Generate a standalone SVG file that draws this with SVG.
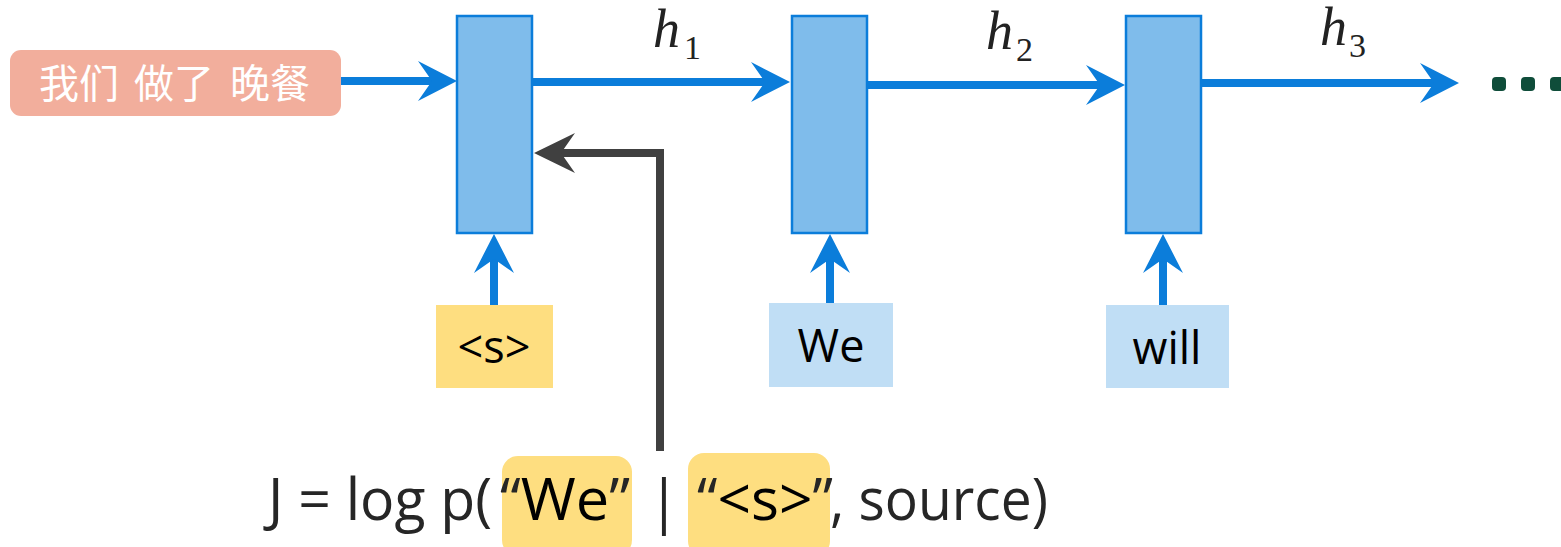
<svg xmlns="http://www.w3.org/2000/svg" width="1561" height="547" viewBox="0 0 1561 547">
<style>
.cell{fill:#7FBCEB;stroke:#0B7DDA;stroke-width:2.5}
.blue{stroke:#0B7DDA;stroke-width:8;fill:none}
.gray{stroke:#404040;stroke-width:8;fill:none;stroke-linejoin:miter}
.tok{font-family:"Open Sans","Noto Sans",sans-serif;font-size:45px;fill:#000;text-anchor:middle}
.h{font-family:"Liberation Serif",serif;font-style:italic;font-size:54px;fill:#222}
.sub{font-family:"Liberation Serif",serif;font-size:34px;fill:#222}
.eq{font-family:"Open Sans","Noto Sans",sans-serif;font-size:58px;fill:#262626}
.cjk{font-family:"Noto Sans CJK SC",sans-serif;font-size:40px;fill:#fff}
</style>
<defs>
<marker id="ab" viewBox="-40 -22 42 44" refX="-25" refY="0" markerWidth="42" markerHeight="44" markerUnits="userSpaceOnUse" orient="auto">
<path d="M0,0 L-39,-20 L-25,0 L-39,20 Z" fill="#0B7DDA"/>
</marker>
<marker id="ag" viewBox="-42 -22 44 44" refX="-27" refY="0" markerWidth="44" markerHeight="44" markerUnits="userSpaceOnUse" orient="auto">
<path d="M0,0 L-41,-20 L-27,0 L-41,20 Z" fill="#404040"/>
</marker>
</defs>

<g id="source">
<rect x="10" y="50" width="331" height="66" rx="11" fill="#F2AE9C"/>
<text class="cjk" y="98"><tspan x="39">我们</tspan><tspan x="134">做了</tspan><tspan x="230">晚餐</tspan></text>
</g>

<g id="cell1"><rect class="cell" x="457" y="16" width="75" height="217"/></g>
<g id="cell2"><rect class="cell" x="792" y="16" width="75" height="217"/></g>
<g id="cell3"><rect class="cell" x="1126" y="16" width="75" height="217"/></g>

<g id="tok-s"><rect x="436" y="305" width="117" height="83" fill="#FEDE80"/><text class="tok" x="494" y="363">&lt;s&gt;</text></g>
<g id="tok-we"><rect x="769" y="303" width="124" height="84" fill="#C0DEF5"/><text class="tok" x="831" y="362">We</text></g>
<g id="tok-will"><rect x="1106" y="305" width="123" height="83" fill="#C0DEF5"/><text class="tok" x="1167" y="364">will</text></g>

<g id="labels">
<text class="h" x="653" y="47">h</text><text class="sub" x="684" y="59">1</text>
<text class="h" x="986" y="49">h</text><text class="sub" x="1016" y="61">2</text>
<text class="h" x="1320" y="45">h</text><text class="sub" x="1349" y="57">3</text>
</g>

<g id="ellipsis" fill="#0F4D3A">
<rect x="1492" y="77" width="14" height="14" rx="4"/>
<rect x="1521" y="77" width="14" height="14" rx="4"/>
<rect x="1550" y="77" width="14" height="14" rx="4"/>
</g>

<g id="connectors">
<line class="blue" x1="341" y1="81" x2="432" y2="81" marker-end="url(#ab)"/>
<line class="blue" x1="532" y1="82" x2="765" y2="82" marker-end="url(#ab)"/>
<line class="blue" x1="867" y1="85" x2="1100" y2="85" marker-end="url(#ab)"/>
<line class="blue" x1="1201" y1="83" x2="1434" y2="83" marker-end="url(#ab)"/>
<line class="blue" x1="494" y1="305" x2="494" y2="259" marker-end="url(#ab)"/>
<line class="blue" x1="830" y1="303" x2="830" y2="259" marker-end="url(#ab)"/>
<line class="blue" x1="1163" y1="305" x2="1163" y2="259" marker-end="url(#ab)"/>
<path class="gray" d="M660,451 V153 H561" marker-end="url(#ag)"/>
</g>

<g id="equation">
<rect x="502" y="456" width="130" height="100" rx="16" fill="#FEDE80"/>
<rect x="688" y="453" width="142" height="104" rx="16" fill="#FEDE80"/>
<text class="eq" x="268" y="520" textLength="224" lengthAdjust="spacingAndGlyphs">J = log p(</text>
<text class="eq" x="500" y="520" textLength="130" lengthAdjust="spacingAndGlyphs">“<tspan fill="#000">We</tspan>”</text>
<text class="eq" x="648" y="522">|</text>
<text class="eq" x="697" y="520" textLength="136" lengthAdjust="spacingAndGlyphs">“<tspan fill="#000">&lt;s&gt;</tspan>”</text>
<text class="eq" x="830" y="520" textLength="218" lengthAdjust="spacingAndGlyphs">, source)</text>
</g>
</svg>
